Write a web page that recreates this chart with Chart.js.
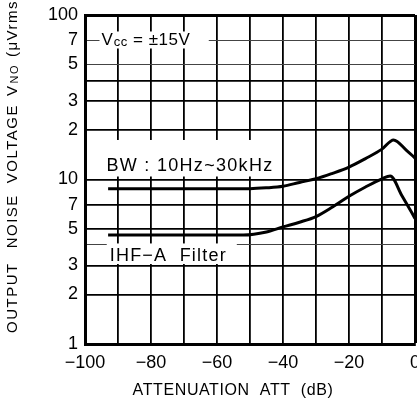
<!DOCTYPE html>
<html><head><meta charset="utf-8">
<style>html,body{margin:0;padding:0;background:#fff}#wrap{width:417px;height:407px;position:relative}</style>
<script src="https://cdn.jsdelivr.net/npm/chart.js@4/dist/chart.umd.min.js"></script>
</head><body><div id="wrap"><canvas id="c"></canvas></div>
<script>
// ---- data ----
const bwAttenuation = [-93, -50, -45, -40, -35, -30, -25, -20, -15, -10, -6.5, -2.5, 0];
const bwNoise       = [8.8, 8.8, 8.9, 9.1, 9.6, 10.1, 10.9, 11.9, 13.4, 15.3, 17.4, 15.0, 13.5];
const ihfAttenuation = [-93, -52, -45, -40, -35, -30, -25, -20, -15, -10, -7.5, -4, -1, 0];
const ihfNoise       = [4.6, 4.6, 4.8, 5.15, 5.5, 5.95, 6.8, 7.9, 9.0, 10.1, 10.5, 8.0, 6.3, 5.8];
const yGridValues = [1, 2, 3, 4, 5, 7, 10, 20, 30, 40, 50, 70, 100];
const yTickLabels = ['1', '2', '3', '', '5', '7', '10', '2', '3', '', '5', '7', '100'];
const xGridValues = [-100, -90, -80, -70, -60, -50, -40, -30, -20, -10, 0];
const xTickLabels = ['\u2212100', '', '\u221280', '', '\u221260', '', '\u221240', '', '\u221220', '', '0'];
const labelBW = 'BW : 10Hz~30kHz';
const labelIHF = 'IHF\u2212A  Filter';
const xTitle = 'ATTENUATION  ATT  (dB)';

const FONT = '"Liberation Sans", Arial, Helvetica, sans-serif';

const annot = {
  id: 'annot',
  afterDraw(chart) {
    const ctx = chart.ctx, xs = chart.scales.x, ys = chart.scales.y;
    ctx.save();
    ctx.fillStyle = '#000';
    ctx.textBaseline = 'middle';
    ctx.textAlign = 'left';
    const white = (x1, y1, x2, y2) => { ctx.fillStyle = '#fff'; ctx.fillRect(x1, y1, x2 - x1, y2 - y1); ctx.fillStyle = '#000'; };

    // Vcc label on the 70 line
    const y70 = ys.getPixelForValue(70);
    const vx = xs.getPixelForValue(-95);
    white(vx - 2, y70 - 9, xs.getPixelForValue(-62.5), y70 + 8);
    ctx.letterSpacing = '0.5px';
    ctx.font = '17px ' + FONT;
    ctx.fillText('V', vx, y70);
    let w = ctx.measureText('V').width;
    ctx.font = '13px ' + FONT;
    ctx.fillText('cc', vx + w + 0.5, y70 + 2);
    w += ctx.measureText('cc').width + 0.5;
    ctx.font = '17px ' + FONT;
    ctx.fillText(' = \u00b115V', vx + w, y70);

    // BW label
    const y10 = ys.getPixelForValue(10);
    const y20 = ys.getPixelForValue(20);
    const bx = xs.getPixelForValue(-93.5);
    white(bx - 3, y20 + 10, xs.getPixelForValue(-41.5), y10 - 3);
    ctx.font = '18px ' + FONT;
    ctx.letterSpacing = '1.3px';
    ctx.fillText(labelBW, bx, y10 - 13);

    // IHF label
    const y4 = ys.getPixelForValue(4), y3 = ys.getPixelForValue(3);
    const ix = xs.getPixelForValue(-92.5);
    white(ix - 3, y4 - 1.5, xs.getPixelForValue(-54), y3 - 1.5);
    ctx.letterSpacing = '1.2px';
    ctx.fillText(labelIHF, ix, (y4 + y3) / 2 + 1);

    // X title
    ctx.font = '16px ' + FONT;
    ctx.letterSpacing = '0.6px';
    ctx.textAlign = 'center';
    ctx.fillText(xTitle, (xs.left + xs.right) / 2 - 17, 391);

    // Y title (rotated)
    ctx.translate(13, 333);
    ctx.rotate(-Math.PI / 2);
    ctx.textAlign = 'left';
    ctx.letterSpacing = '1.5px';
    const big = '15px ' + FONT, small = '11px ' + FONT;
    const parts = [['OUTPUT', big, 0, 14], ['NOISE', big, 0, 11], ['VOLTAGE', big, 0, 8], ['V', big, 0, 1], ['NO', small, 2, 7], ['(\u03bcVrms)', big, 0, 0]];
    let px = 0;
    for (const [t, f, dy, gap] of parts) {
      ctx.font = f;
      ctx.fillText(t, px, dy);
      px += ctx.measureText(t).width + gap;
    }
    ctx.restore();
  }
};

const thinY = [70, 50, 4];

new Chart(document.getElementById('c'), {
  type: 'line',
  data: {
    datasets: [
      { label: 'BW', data: bwAttenuation.map((x, i) => ({ x, y: bwNoise[i] })), borderColor: '#000', borderWidth: 3, pointRadius: 0, cubicInterpolationMode: 'monotone', fill: false },
      { label: 'IHF-A', data: ihfAttenuation.map((x, i) => ({ x, y: ihfNoise[i] })), borderColor: '#000', borderWidth: 3, pointRadius: 0, cubicInterpolationMode: 'monotone', fill: false }
    ]
  },
  options: {
    responsive: true,
    maintainAspectRatio: false,
    animation: false,
    devicePixelRatio: 1,
    layout: { padding: { top: 15, right: 2, left: 0, bottom: 0 } },
    plugins: { legend: { display: false }, tooltip: { enabled: false } },
    scales: {
      x: {
        type: 'linear', min: -100, max: 0,
        afterBuildTicks: s => { s.ticks = xGridValues.map(v => ({ value: v })); },
        afterFit: s => { s.height = 63; s.paddingLeft = 0; s.paddingRight = 0; },
        ticks: { callback: (v, i) => xTickLabels[i], color: '#000', font: { family: FONT, size: 18 }, padding: 8, maxRotation: 0, autoSkip: false },
        grid: { color: '#000', drawTicks: false, lineWidth: c => (c.tick && c.tick.value === 0 ? 3 : 1.8) },
        border: { color: '#000', width: 3 }
      },
      y: {
        type: 'logarithmic', min: 1, max: 100,
        afterBuildTicks: s => { s.ticks = yGridValues.map(v => ({ value: v })); },
        afterFit: s => { s.width = 85; s.paddingTop = 0; s.paddingBottom = 0; },
        ticks: { callback: (v, i) => yTickLabels[i], color: '#000', font: { family: FONT, size: 18 }, padding: 7, autoSkip: false },
        grid: { color: c => (c.tick && thinY.includes(c.tick.value) ? '#444' : '#000'), drawTicks: false,
                lineWidth: c => (c.tick && c.tick.value === 100 ? 3 : (c.tick && thinY.includes(c.tick.value) ? 1 : 1.8)) },
        border: { color: '#000', width: 3 }
      }
    }
  },
  plugins: [annot]
});
</script>
</body></html>
